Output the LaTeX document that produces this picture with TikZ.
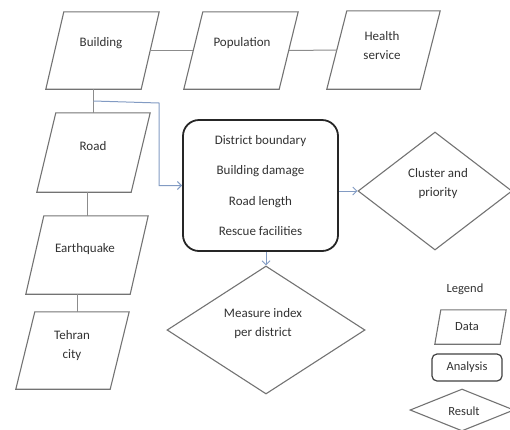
\documentclass[tikz,border=0pt]{standalone}
\usepackage{fontspec}
\setmainfont{Carlito}
\usetikzlibrary{shapes.geometric,arrows.meta,calc}
\definecolor{edgec}{RGB}{115,115,115}
\definecolor{connc}{RGB}{140,140,140}
\definecolor{flowc}{RGB}{130,155,195}
\definecolor{txtc}{RGB}{50,50,50}
\newcommand\paradraw[2]{\draw[paraline] (#1.south west) -- ([xshift=#2bp]#1.north west) -- (#1.north east) -- ([xshift=-#2bp]#1.south east) -- cycle;}
\begin{document}
\begin{tikzpicture}[x=1bp,y=-1bp,
  font=\fontsize{13bp}{19bp}\selectfont,
  databox/.style={rectangle, inner sep=0pt, minimum width=113bp, minimum height=77bp},
  txtlbl/.style={text=txtc, align=center, inner sep=0pt},
  paraline/.style={draw=edgec, line width=1.1bp},
  conn/.style={draw=connc, line width=1bp},
  flow/.style={draw=flowc, line width=1bp, -{Straight Barb[length=4bp,width=8bp]}},
  analysis/.style={draw=black!85, line width=1.8bp, rounded corners=16bp, minimum width=155bp, minimum height=131bp, align=center, text=txtc, inner sep=0pt, font=\fontsize{13bp}{30.5bp}\selectfont},
  result/.style={diamond, draw=edgec, line width=1.1bp, inner sep=0pt}]
\useasboundingbox (0,0) rectangle (510,429);

% data parallelograms
\node[databox] (bld) at (102.5,50.5) {};
\node[databox, minimum width=114bp] (pop) at (241,50.5) {};
\node[databox, minimum height=78bp] (hlt) at (383.5,50) {};
\node[databox, minimum height=79bp] (road) at (93.5,152.5) {};
\node[databox, minimum width=122bp, minimum height=78bp] (eq) at (87,255) {};
\node[databox] (teh) at (72.5,350.5) {};
\paradraw{bld}{18}
\paradraw{pop}{19}
\paradraw{hlt}{20}
\paradraw{road}{19}
\paradraw{eq}{18}
\paradraw{teh}{19}

\node[txtlbl] (bldT) at (101,43) {Building};
\node[txtlbl] (popT) at (242,43) {Population};
\node[txtlbl] (hltT) at (382,45.5) {Health\\service};
\node[txtlbl] (roadT) at (93,146) {Road};
\node[txtlbl] (eqT) at (85,249) {Earthquake};
\node[txtlbl] (tehT) at (72,346) {Tehran\\city};

% analysis box
\node[analysis] (box) at (260.5,185.5) {District boundary\\Building damage\\Road length\\Rescue facilities};

% results
\node[result, minimum width=154bp, minimum height=118bp] (clu) at (435,191) {};
\node[txtlbl] (cluT) at (438,184) {Cluster and\\priority};
\node[result, minimum width=198bp, minimum height=128bp] (mea) at (266,330) {};
\node[txtlbl] (meaT) at (263,323.5) {Measure index\\per district};

% connectors
\draw[conn] ([xshift=-9bp]bld.east) -- ([xshift=9.5bp]pop.west);
\draw[conn] ([xshift=-9.5bp]pop.east) -- ([xshift=10bp]hlt.west);
\draw[conn] (road.north) -- (road.north |- bld.south);
\coordinate (j1) at ($(road.north)!0.5!(road.north |- bld.south)$);
\coordinate (k1) at (159,103);
\draw[flow] (j1) -- (k1) |- (box.west);
\draw[conn] (eq.north) -- (eq.north |- road.south);
\draw[conn] ([xshift=4.5bp]teh.north) -- ([xshift=4.5bp]teh.north |- eq.south);
\draw[flow] (box.east |- clu.west) -- (clu.west);
\draw[flow] (mea.north |- box.south) -- (mea.north);

% legend
\node[txtlbl, font=\fontsize{12.5bp}{15bp}\selectfont] (legT) at (465,289) {Legend};
\node[databox, minimum width=71bp, minimum height=34bp] (legD) at (470.5,327) {};
\paradraw{legD}{6}
\node[txtlbl, font=\fontsize{12.5bp}{15bp}\selectfont] (legDT) at (467,327) {Data};
\node[draw=black!75, line width=1.2bp, rounded corners=5bp, minimum width=70bp, minimum height=27bp, inner sep=0pt, text=txtc, font=\fontsize{12.5bp}{15bp}\selectfont] (legA) at (467,367.5) {Analysis};
\node[result, minimum width=104bp, minimum height=42bp] (legR) at (462,410) {};
\node[txtlbl, font=\fontsize{12.5bp}{15bp}\selectfont] (legRT) at (464,411) {Result};
\end{tikzpicture}
\end{document}
